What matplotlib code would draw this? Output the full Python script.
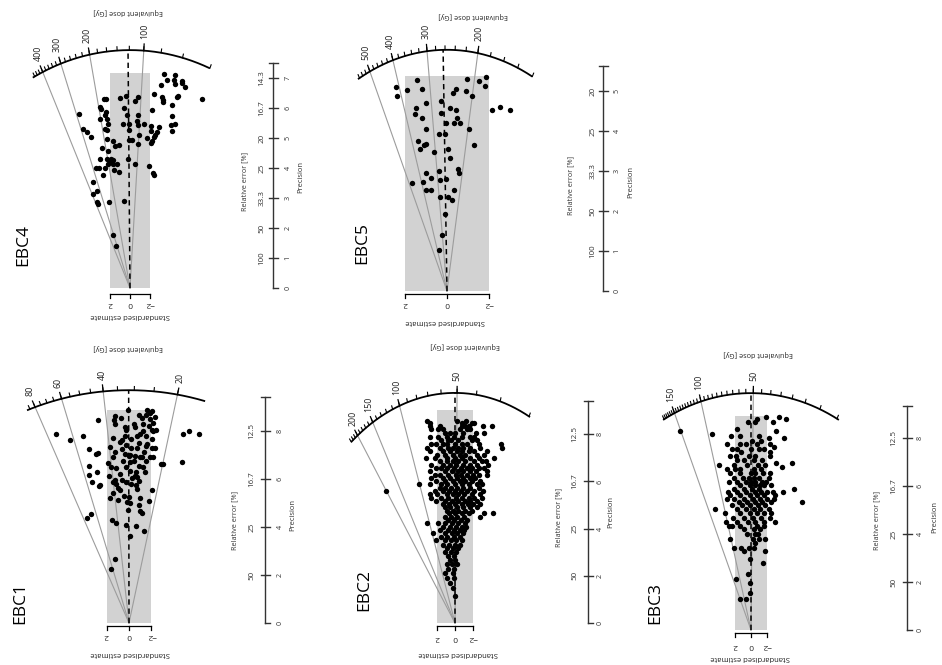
import numpy as np
import matplotlib
matplotlib.use("Agg")
import matplotlib.pyplot as plt
from matplotlib.patches import Rectangle

plt.rcParams['font.family'] = ['Open Sans', 'DejaVu Sans']

# ---------------- data: standardised estimate (z) and precision (p) ----------------
ebc4_z = [-3.43, -4.5, -3.73, -4.4, -5.17, -5.23, -4.5, -3.1, -5.5, -2.4,
          -4.83, -4.73, -3.17, -3.33, -7.17, -3.27, -4.17, -2.23, -4.23, -2.93,
          -4.07, -4.53, -4.2, -2.67, -2.53, -2.4, -2.17, -1.93, -2.27, -2.4,
          -2.07, -2.07, -2.1,
          0.4, 0.97, -0.77, -0.5, -0.83, 0.6, 0.33, -0.83, 0.13, 0.73,
          0.07, -1.4, -0.67, -0.93, 0.07, -0.17, -1.73, -0.77, 0.17, -0.5, 0.6,
          2.6, 2.4, 3.0, 2.93, 2.4, 2.47, 3.0, 2.33, 2.23, 2.53,
          2.33, 5.13, 4.67, 4.27, 3.87, 2.27, 1.73, 1.5, 1.1, 3.0,
          2.33, 1.93, 2.0, 1.73, 2.17, 1.7, 1.27, 2.5, 3.1, 3.4,
          1.57, 1.13, 2.67, 3.67, 3.33, 3.73, 3.33, 3.23, 2.1, 1.67,
          1.4, 2.83, 2.17]
ebc4_p = [7.14, 7.11, 6.94, 6.94, 6.89, 6.83, 6.8, 6.78, 6.69, 6.48,
          6.41, 6.37, 6.36, 6.28, 6.31, 6.19, 6.11, 5.94, 5.74, 5.36,
          5.42, 5.48, 5.22, 5.19, 5.11, 5.03, 4.89, 4.06, 3.83, 3.78,
          5.41, 5.24, 4.83,
          6.39, 6.33, 6.36, 6.22, 5.76, 6.0, 5.78, 5.44, 5.47, 5.48,
          5.28, 5.48, 5.56, 5.11, 4.94, 4.94, 5.0, 4.81, 4.31, 4.13, 2.89,
          6.31, 6.31, 6.03, 5.97, 5.86, 5.78, 5.63, 5.63, 5.48, 5.3,
          5.28, 5.8, 5.31, 5.19, 5.02, 4.97, 4.89, 4.72, 4.78, 4.3,
          4.3, 4.3, 4.19, 4.26, 4.14, 4.13, 4.13, 4.0, 4.0, 4.0,
          3.94, 3.87, 3.76, 3.52, 3.24, 3.13, 2.88, 2.81, 2.86, 1.78,
          1.39, 4.67, 4.56]

ebc5_z = [2.41, 2.37, 1.89, 1.43, 1.17, -1.87, -1.51, -1.81, -0.95, -0.9,
          -0.44, -0.29, -1.19, 0.27, 1.02, 1.46, 1.54, 1.17, -0.13, -0.44,
          0.27, -0.48, -0.32, 0.03, -0.63, -2.14, -2.54, -2.98, -1.05,
          0.98, 0.4, 0.11, 1.38, 1.02, 1.1, 1.3, 0.63, -0.05, -0.16,
          -1.29, 0.38, 0.98, 1.65, 1.14, 0.78, 0.32, 0.03, -0.52, -0.57,
          0.98, 0.75, 0.35, -0.05, -0.32, -0.25, 0.11, 0.24, 0.4]
ebc5_p = [5.10, 4.88, 5.02, 5.27, 5.06, 5.36, 5.25, 5.13, 5.31, 5.0,
          5.06, 4.94, 4.88, 4.75, 4.71, 4.58, 4.43, 4.33, 4.58, 4.53,
          4.46, 4.33, 4.21, 4.21, 4.21, 4.52, 4.61, 4.52, 4.06,
          4.04, 3.92, 3.92, 3.75, 3.67, 3.64, 3.54, 3.48, 3.56, 3.33,
          3.65, 3.0, 2.94, 2.69, 2.73, 2.83, 2.77, 2.79, 3.04, 2.96,
          2.52, 2.52, 2.35, 2.35, 2.53, 2.27, 1.93, 1.39, 1.03]

ebc1_z = [-4.8, -5.35, -6.25, -4.71, -2.82, -3.06, 6.55, 5.23, 4.14, 3.6,
          2.94, 2.79, 3.54, 3.54, 2.85, 3.33, 2.7, 2.58, 3.75, 3.39,
          2.73, 1.29, 1.65,
          0.09, -1.65, -2.01, -1.86, -1.5, -0.9, -1.2, -2.31, 1.29, 0.69,
          1.35, 1.29, -0.42, -0.51, 0.36, 0.3, -2.16, -1.26, -2.04, -2.4,
          -1.26, -0.96, -0.72, -1.5, 0.39, 0.63, 1.44, -0.21, -1.62, -2.01,
          0.84, 0.24, -0.21, -0.72, -1.56, -2.07, 0.6, 1.74, 1.29, 0.39,
          -0.12, 0.03, -1.02, -1.2, -1.86, -2.16, 1.44, 1.89, 0.54, -0.06,
          -0.42, -1.56, -0.9, -1.26, 0.24, 1.14, -0.12, -0.66, -1.47, 1.8,
          0.84, -0.51, -0.3, -0.75, 1.29, 0.6, 0.3, -0.9, 1.44, 1.14,
          -0.21, -0.6, 0.99, 0.84, -0.72, 1.44, 0.48, 0.03, -1.02, 1.74,
          0.99, 0.15, -0.12, -1.8, -2.07, -0.9, 0.09, -1.02, -1.2, 1.5,
          1.14, 0.3, -0.66, -1.35, -0.06,
          1.59, -1.35, -0.9, -0.51, -1.86, -1.8, -2.16, -2.31]
ebc1_p = [7.89, 7.99, 7.88, 6.71, 6.63, 6.63, 7.88, 7.64, 7.81, 7.25,
          7.06, 7.08, 6.56, 6.18, 6.28, 5.88, 5.72, 5.76, 4.38, 4.56,
          8.47, 2.67, 2.26,
          8.89, 8.89, 8.85, 8.75, 8.68, 8.68, 8.54, 8.58, 8.64, 8.54,
          8.47, 8.31, 8.29, 8.17, 8.15, 8.06, 8.33, 8.29, 8.03, 8.06,
          7.99, 7.89, 7.81, 7.78, 7.81, 7.64, 7.71, 7.67, 7.46, 7.67,
          7.53, 7.43, 7.29, 7.29, 7.36, 7.29, 7.25, 7.33, 7.11, 7.06,
          7.01, 6.94, 6.9, 6.9, 6.9, 6.9, 6.9, 6.67, 6.74, 6.69,
          6.76, 6.74, 6.56, 6.49, 6.49, 6.46, 6.32, 6.28, 6.28, 6.11,
          6.21, 6.11, 6.04, 6.08, 5.97, 5.97, 5.86, 5.9, 5.86, 5.79,
          5.79, 5.76, 5.63, 5.56, 5.58, 5.42, 5.31, 5.25, 5.21, 5.21,
          5.11, 5.03, 5.0, 5.07, 5.53, 4.9, 4.72, 4.65, 4.58, 4.31,
          4.17, 4.1, 4.03, 3.82, 3.64,
          6.5, 7.11, 7.5, 6.97, 8.5, 8.19, 7.99, 7.29]

# rows of (precision, [standardised estimates]) for the dense panels
ebc2_rows = [
    (8.56, [3.09, -1.25, -0.19]),
    (8.49, [2.75, -0.75, -1.89, -2.08]),
    (8.35, [2.83, 1.70, -1.13, -1.51, -0.75, -3.13, -4.08]),
    (8.21, [2.64, 1.89, 1.32, -0.57, -1.32, -1.70]),
    (8.07, [1.13, 0.57, 0.0, -0.94, -2.38, -3.21]),
    (7.89, [2.83, 1.89, 0.87, 0.11, -0.75, -1.62, -2.15]),
    (7.75, [1.51, 0.75, 0.49, -0.38, -1.89, -2.45]),
    (7.58, [2.64, 2.08, 1.32, 0.94, 0.0, -0.75, -1.32, -2.64, -5.09]),
    (7.41, [3.09, 1.70, 0.75, 0.26, -0.38, -0.94, -1.70, -2.83, -5.17]),
    (7.27, [2.75, 1.32, 0.57, -0.19, -0.75, -1.51, -2.08, -3.58]),
    (7.13, [2.0, 1.13, 0.19, -0.57, -1.13, -2.45, -3.21]),
    (6.99, [3.21, 2.26, 0.87, 0.0, -0.75, -1.70, -2.64, -4.34]),
    (6.85, [1.70, 0.94, 0.26, -0.38, -1.13, -2.08, -3.02, -3.40]),
    (6.71, [2.64, 1.32, 0.57, -0.11, -0.87, -1.62, -2.45, -3.66]),
    (6.57, [2.15, 1.51, 0.87, 0.11, -0.64, -1.32, -1.89, -2.64, -3.21]),
    (6.43, [2.83, 1.13, 0.38, -0.38, -0.94, -1.70, -2.38, -3.58]),
    (6.29, [2.26, 1.70, 0.75, -0.11, -0.64, -1.32, -2.0, -2.64, -3.51]),
    (6.15, [2.64, 1.32, 0.57, -0.26, -0.94, -1.62, -2.26]),
    (6.01, [2.08, 1.13, 0.26, -0.57, -1.13, -1.89, -2.83]),
    (5.87, [4.04, 2.83, 1.51, 0.87, 0.0, -0.75, -1.51, -2.45, -3.02]),
    (5.73, [1.70, 1.13, 0.49, -0.19, -0.94, -1.70, -2.64]),
    (5.59, [7.66, 2.26, 1.32, 0.64, 0.0, -0.64, -1.32, -2.08, -3.13]),
    (5.45, [2.83, 2.0, 0.94, 0.26, -0.38, -1.02, -1.89, -2.75]),
    (5.31, [2.64, 1.51, 0.75, -0.11, -0.75, -1.51, -2.08, -3.02]),
    (5.17, [2.15, 1.13, 0.38, -0.38, -1.13, -1.70, -2.45]),
    (5.03, [1.32, 0.64, 0.0, -0.75, -1.40, -2.0, -2.83]),
    (4.90, [1.13, 0.57, -0.26, -0.94, -1.62, -2.45]),
    (4.76, [0.94, 0.26, -0.38, -1.13, -1.89]),
    (4.64, [0.64, 0.0, -0.75, -1.51, -3.21, -4.26]),
    (4.50, [1.13, 0.49, -0.26, -1.02, -2.83]),
    (4.36, [0.75, 0.11, -0.64, -1.32]),
    (4.22, [3.09, 1.89, 1.13, 0.38, -0.38, -1.13]),
    (4.08, [1.32, 0.57, -0.11, -0.75, -1.25]),
    (3.94, [1.70, 0.75, 0.11, -0.57, -1.02]),
    (3.80, [2.45, 1.13, 0.38, -0.26, -0.87]),
    (3.66, [1.51, 0.87, 0.11, -0.57]),
    (3.50, [2.15, 1.13, 0.49, -0.11, -0.75]),
    (3.31, [1.32, 0.64, 0.0, -0.57]),
    (3.17, [0.87, 0.19, -0.38]),
    (2.99, [1.13, 0.49, -0.11]),
    (2.83, [0.75, 0.11]),
    (2.66, [0.57, 0.0]),
    (2.48, [0.94, 0.38, -0.19]),
    (2.29, [0.75, 0.11]),
    (2.10, [1.13, 0.26]),
    (1.92, [0.94, 0.11]),
    (1.71, [0.57]),
    (1.50, [0.19]),
    (1.15, [0.0]),
]

ebc3_rows = [
    (8.89, [-1.94, -3.49]),
    (8.81, [-4.42, -0.76]),
    (8.67, [0.42, -0.55, -2.78]),
    (8.36, [1.77]),
    (8.29, [8.93, -3.20]),
    (8.18, [4.93]),
    (8.08, [2.53, 1.43, -0.97]),
    (8.01, [-4.13, -2.23]),
    (7.88, [-0.13, -1.26]),
    (7.74, [3.03, 1.35, 0.59, -0.76, -2.36]),
    (7.64, [-2.95]),
    (7.53, [2.40, 1.77, 0.0, -0.97, -1.60]),
    (7.42, [1.26, -2.44]),
    (7.25, [2.69, 1.85, 0.29, -0.55, -2.36]),
    (7.08, [1.77, 0.93, -0.34, -1.39]),
    (6.97, [-3.20, -5.18]),
    (6.86, [4.08, 2.19, 0.51, -0.84, -1.81]),
    (6.81, [-3.92]),
    (6.69, [3.03, 1.98, 1.35, -0.34, -1.26]),
    (6.53, [2.69, 1.35, -0.04, -0.55, -1.52, -2.44]),
    (6.35, [2.19, 1.01, 0.29, -0.34, -0.97, -2.23]),
    (6.17, [2.82, 1.77, 0.59, -0.04, -0.55, -1.39, -1.94]),
    (6.03, [1.35, 0.17, -0.55, -1.09, -1.68, -2.53]),
    (5.89, [2.19, 0.93, -0.13, -0.97, -5.39]),
    (5.75, [2.95, 1.77, 0.59, -0.55, -1.26, -2.02, -2.78, -4.04]),
    (5.61, [2.69, 1.35, 0.17, -0.76, -1.68, -3.07]),
    (5.47, [3.03, 2.11, 0.84, -0.25, -1.09, -2.02, -2.86]),
    (5.33, [1.56, 0.51, -0.55, -1.39, -2.53, -6.44]),
    (5.19, [2.40, 1.14, 0.08, -0.84, -1.81]),
    (5.03, [4.51, 1.77, 0.59, -0.34, -1.18, -2.23]),
    (4.86, [3.24, 1.35, 0.17, -0.76, -1.60, -2.53]),
    (4.68, [2.27, 0.84, -0.25, -1.26, -2.36]),
    (4.50, [3.12, 1.77, 0.42, -0.55, -1.60, -3.07]),
    (4.33, [2.82, 2.40, 1.35, -0.76, -1.68]),
    (4.19, [0.84, -0.34, -1.09]),
    (3.99, [0.51, -0.55, -0.84]),
    (3.81, [2.61, -0.25, -0.97, -1.81]),
    (3.64, [-0.55]),
    (3.43, [2.19, 1.26, 0.29, -0.34]),
    (3.29, [0.93, -1.81]),
    (2.94, [0.08]),
    (2.81, [-1.52]),
    (2.32, [0.42]),
    (2.14, [1.85]),
    (1.97, [0.08]),
    (1.56, [0.17]),
    (1.31, [1.35, 0.59]),
]


def rows_to_zp(rows):
    z, p = [], []
    for pp, zs in rows:
        for zz in zs:
            z.append(zz)
            p.append(pp)
    return z, p


ebc2_z, ebc2_p = rows_to_zp(ebc2_rows)
ebc3_z, ebc3_p = rows_to_zp(ebc3_rows)

# arc (equivalent dose, Gy) labels
ebc4_arc = [100, 200, 300, 400]
ebc5_arc = [200, 300, 400, 500]
ebc1_arc = [20, 40, 60, 80]
ebc2_arc = [50, 100, 150, 200]
ebc3_arc = [50, 100, 150]

# precision-axis ticks and relative-error labels
ebc4_prec = [0, 1, 2, 3, 4, 5, 6, 7]
ebc4_rel = [(1, "100"), (2, "50"), (3, "33.3"), (4, "25"), (5, "20"), (6, "16.7"), (7, "14.3")]
ebc5_prec = [0, 1, 2, 3, 4, 5]
ebc5_rel = [(1, "100"), (2, "50"), (3, "33.3"), (4, "25"), (5, "20")]
std_prec = [0, 2, 4, 6, 8]
std_rel = [(2, "50"), (4, "25"), (6, "16.7"), (8, "12.5")]

z_ticks = [2, 0, -2]
z_tick_labels = ["2", "0", "\u22122"]

# ---------------- layout (pixels of a 942x665 canvas) ----------------
W, H = 942, 665
panels = [
    dict(name="EBC4", z=ebc4_z, p=ebc4_p, arc=ebc4_arc, prec=ebc4_prec, rel=ebc4_rel,
         ox=130, oy=288, kx=10.0, ky=30.0, r=7.93, f=0.381, D0=119, Dc=122,
         amin=40, amax=476, step=20, band=7.17, px=273, ptop=7.5,
         title=(23, 245), eq=(128, 11), se=(130, 316), rt=(245, 181), pt=(301, 177),
         zax=294, zlab=303, relx=262, precx=288),
    dict(name="EBC5", z=ebc5_z, p=ebc5_p, arc=ebc5_arc, prec=ebc5_prec, rel=ebc5_rel,
         ox=447, oy=291, kx=21.0, ky=40.0, r=6.03, f=0.68, D0=256, Dc=264,
         amin=120, amax=570, step=20, band=5.38, px=603, ptop=5.63,
         title=(362, 243), eq=(473, 15), se=(445, 322), rt=(571, 185), pt=(631, 182),
         zax=294, zlab=303, relx=593, precx=617),
    dict(name="EBC1", z=ebc1_z, p=ebc1_p, arc=ebc1_arc, prec=std_prec, rel=std_rel,
         ox=129, oy=623, kx=11.2, ky=24.0, r=9.7, f=0.433, D0=31.5, Dc=31.6,
         amin=15.1, amax=88, step=5, band=8.87, px=265, ptop=9.4,
         title=(20, 603), eq=(128, 347), se=(130, 653), rt=(235, 520), pt=(293, 515),
         zax=626, zlab=635, relx=252, precx=280),
    dict(name="EBC2", z=ebc2_z, p=ebc2_p, arc=ebc2_arc, prec=std_prec, rel=std_rel,
         ox=455, oy=623, kx=9.0, ky=23.6, r=9.75, f=0.522, D0=51.2, Dc=51.2,
         amin=19.7, amax=231, step=10, band=9.03, px=588, ptop=9.4,
         title=(364, 590), eq=(465, 345), se=(458, 653), rt=(559, 517), pt=(611, 512),
         zax=626, zlab=637, relx=575, precx=600),
    dict(name="EBC3", z=ebc3_z, p=ebc3_p, arc=ebc3_arc, prec=std_prec, rel=std_rel,
         ox=751, oy=630, kx=7.92, ky=24.0, r=9.87, f=0.411, D0=51.5, Dc=51.5,
         amin=14.5, amax=183, step=5, band=8.9, px=907, ptop=9.35,
         title=(655, 603), eq=(758, 354), se=(750, 658), rt=(877, 520), pt=(935, 517),
         zax=633, zlab=645, relx=894, precx=920),
]

FS = 5.2
fig = plt.figure(figsize=(W / 100, H / 100), dpi=100)


def draw_panel(L):
    ax = fig.add_axes([0, 0, 1, 1])
    kx, ky, ox, oy = L["kx"], L["ky"], L["ox"], L["oy"]
    ax.set_xlim(ox / kx, (ox - W) / kx)          # z increases to the left
    ax.set_ylim((oy - H) / ky, oy / ky)          # precision increases upward
    ax.axis("off")
    ax.patch.set_alpha(0)

    def zx(xpx):
        return (ox - xpx) / kx

    def py(ypx):
        return (oy - ypx) / ky

    lnD0 = np.log(L["D0"])
    r, f = L["r"], L["f"]

    def arcpt(D, scale=1.0):
        d = np.log(D) - lnD0
        pp = scale * r / np.sqrt(1 + (f * d) ** 2)
        return d * pp, pp

    # +-2 band
    ax.add_patch(Rectangle((-2, 0), 4, L["band"], fc="#d2d2d2", ec="none", zorder=1))

    # reference lines for labelled doses
    for D in L["arc"]:
        zz, pp = arcpt(D)
        ax.plot([0, zz], [0, pp], color="#9c9c9c", lw=0.8, zorder=2)
    # central value (dashed)
    zz, pp = arcpt(L["Dc"])
    ax.plot([0, zz], [0, pp], color="black", lw=1.1, ls=(0, (3.5, 2.5)), zorder=3)

    # arc
    Ds = np.exp(np.linspace(np.log(L["amin"]), np.log(L["amax"]), 400))
    zz, pp = arcpt(Ds)
    ax.plot(zz, pp, color="black", lw=1.3, zorder=3, solid_capstyle="butt")
    step = L["step"]
    minor = np.arange(np.ceil(L["amin"] / step) * step, L["amax"], step)
    for D in minor:
        z1, p1 = arcpt(D)
        z2, p2 = arcpt(D, 1.016)
        ax.plot([z1, z2], [p1, p2], color="black", lw=0.8, zorder=3)
    for D in L["arc"]:
        z1, p1 = arcpt(D)
        z2, p2 = arcpt(D, 1.028)
        ax.plot([z1, z2], [p1, p2], color="black", lw=0.9, zorder=3)
        zt, pt = arcpt(D, 1.05)
        ax.text(zt, pt, str(D), rotation=90, rotation_mode="anchor",
                ha="left", va="center", fontsize=FS + 1.2, color="#222222")

    # points
    ax.scatter(L["z"], L["p"], s=15, c="black", linewidths=0, zorder=4)

    # standardised estimate axis
    pa = py(L["zax"])
    ax.plot([2, -2], [pa, pa], color="black", lw=0.9, zorder=3)
    for t, lab in zip(z_ticks, z_tick_labels):
        ax.plot([t, t], [pa, pa - 4 / ky], color="black", lw=0.9, zorder=3)
        ax.text(t, py(L["zlab"]), lab, rotation=180, ha="center", va="center",
                fontsize=FS + 0.8, color="#222222")

    # precision axis
    xa = zx(L["px"])
    dxt = 4.5 / kx
    ax.plot([xa, xa], [0, L["ptop"]], color="#333333", lw=1.0, zorder=3)
    ax.plot([xa + dxt, xa - dxt], [L["ptop"], L["ptop"]], color="#333333", lw=1.0)
    for t in L["prec"]:
        ax.plot([xa, xa - dxt], [t, t], color="#333333", lw=1.0)
        ax.text(zx(L["precx"]), t, str(t), rotation=90, ha="center", va="center",
                fontsize=FS, color="#333333")
    for t, lab in L["rel"]:
        ax.plot([xa, xa + dxt], [t, t], color="#333333", lw=1.0)
        ax.text(zx(L["relx"]), t, lab, rotation=90, ha="center", va="center",
                fontsize=FS + 0.6, color="#333333")

    def ftext(pos, s, rot, size, **kw):
        fig.text(pos[0] / W, 1 - pos[1] / H, s, rotation=rot, ha="center",
                 va="center", fontsize=size, **kw)

    ftext(L["title"], L["name"], 90, 12.5, color="black")
    ftext(L["eq"], "Equivalent dose [Gy]", 180, FS, color="#222222")
    ftext(L["se"], "Standardised estimate", 180, FS + 0.3, color="#222222")
    ftext(L["rt"], "Relative error [%]", 90, FS, color="#333333")
    ftext(L["pt"], "Precision", 90, FS + 0.3, color="#333333")


for L in panels:
    draw_panel(L)

fig.savefig("out.png", dpi=100, facecolor="white")
